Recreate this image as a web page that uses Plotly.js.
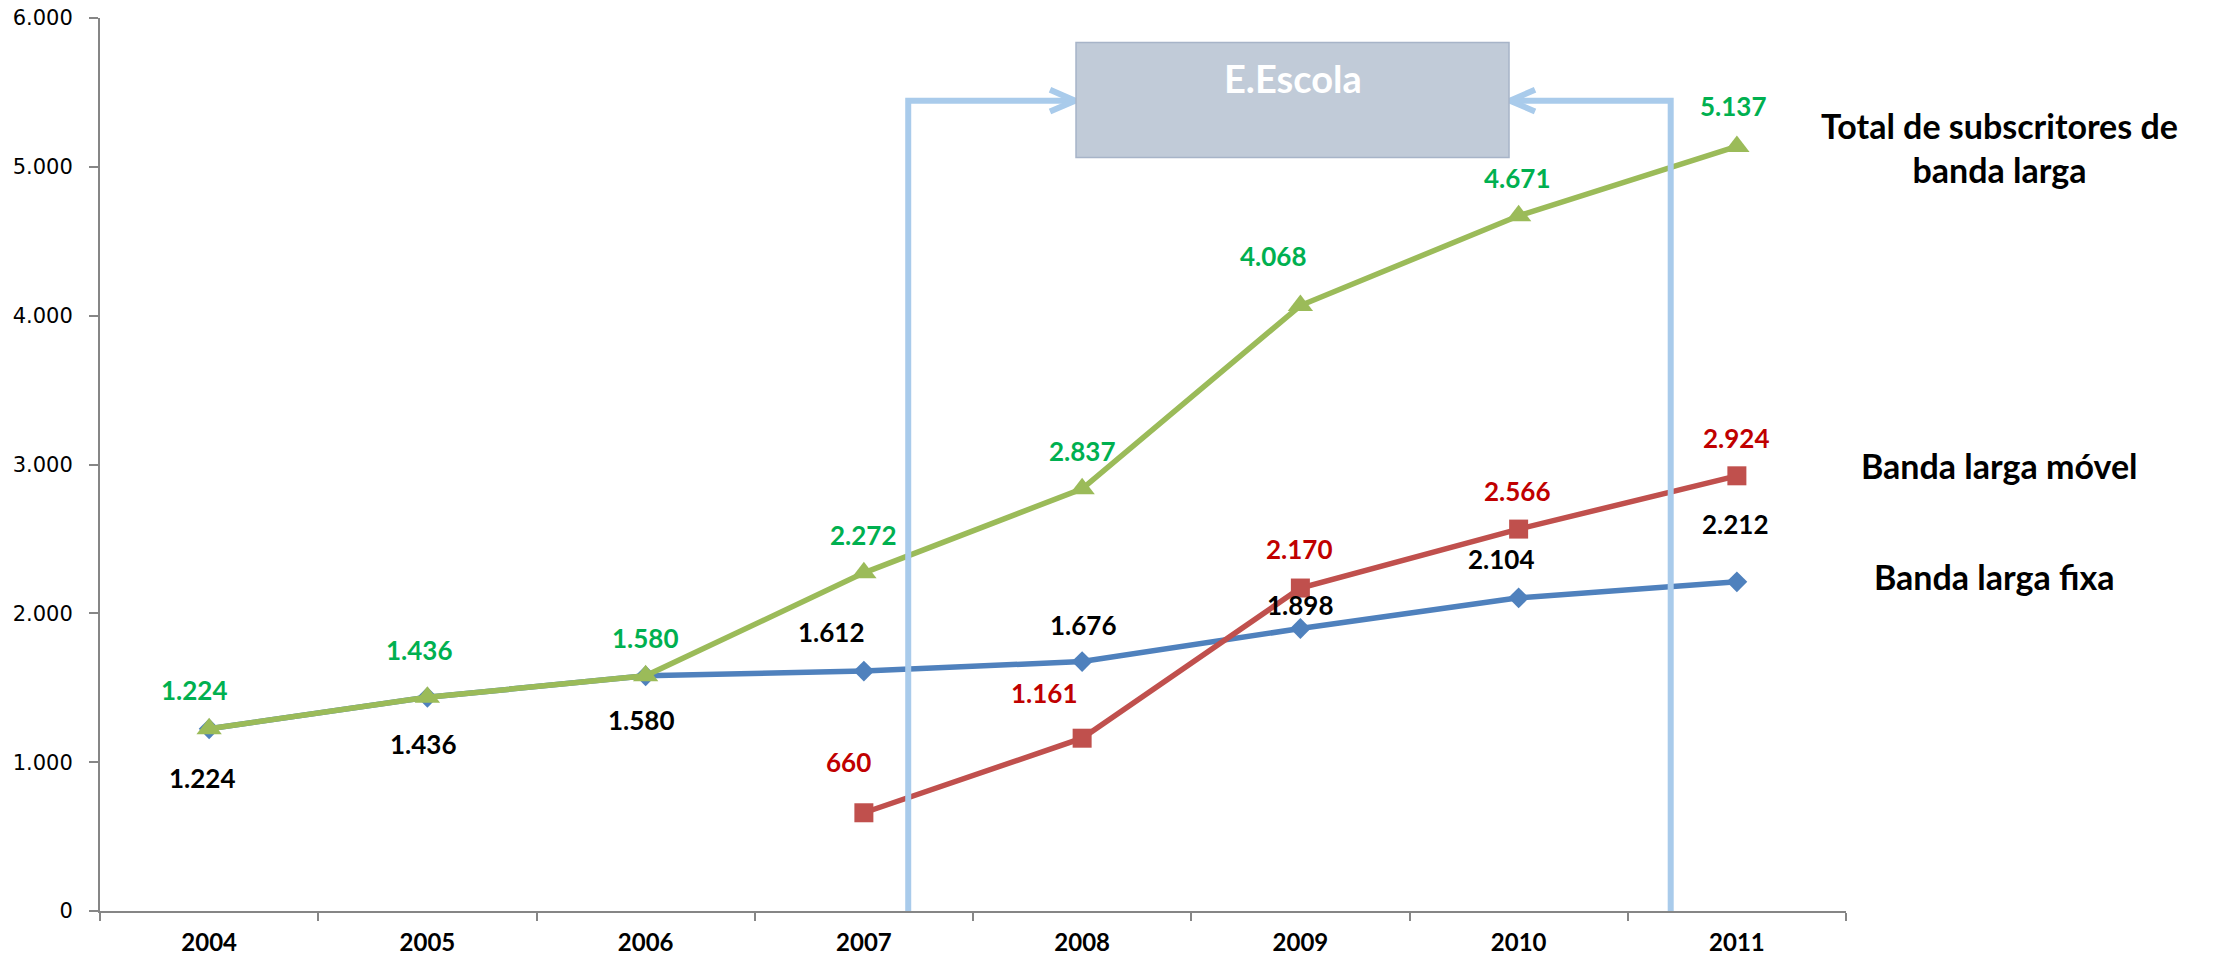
<!DOCTYPE html>
<html>
<head>
<meta charset="utf-8">
<script src="https://cdn.plot.ly/plotly-3.0.1.min.js"></script>
<style>
  html, body { margin: 0; padding: 0; background: #ffffff; }
  #chart { width: 2213px; height: 958px; }
</style>
</head>
<body>
<div id="chart"></div>
<script>
// ---- data ----
const years = ['2004', '2005', '2006', '2007', '2008', '2009', '2010', '2011'];
const bandaLargaFixa = [1224, 1436, 1580, 1612, 1676, 1898, 2104, 2212];
const bandaLargaMovel = [null, null, null, 660, 1161, 2170, 2566, 2924];
const totalSubscritores = [1224, 1436, 1580, 2272, 2837, 4068, 4671, 5137];
const seriesNames = ['Banda larga fixa', 'Banda larga móvel', 'Total de subscritores de<br>banda larga'];
const boxLabel = 'E.Escola';

// ---- label placement (pixel shifts from each point) ----
const shiftTotal = [[-15, 39], [-8, 47], [0, 38], [0, 38], [0, 38], [-27, 50], [-1, 38], [-3, 40]];
const shiftFixa = [[-7, -49], [-4, -47], [-4, -44], [-32, 39], [1, 37], [0, 24], [-17, 39], [-1, 58]];
const shiftMovel = [null, null, null, [-15, 51], [-38, 45], [-1, 39], [-1, 38], [0, 38]];

const COL_BLUE = '#4F81BD', COL_RED = '#C0504D', COL_GREEN = '#9BBB59';
const LBL_GREEN = '#00B050', LBL_RED = '#C00000', LBL_BLACK = '#000000';
const BRACKET = '#A9CBEB';

function fmt(v) {
  return String(v).replace(/\B(?=(\d{3})+(?!\d))/g, '.');
}

const traces = [
  {
    x: years, y: bandaLargaFixa, type: 'scatter', mode: 'lines+markers',
    name: seriesNames[0],
    line: { color: COL_BLUE, width: 5.5 },
    marker: { symbol: 'diamond', size: 16, color: COL_BLUE },
    cliponaxis: false, hoverinfo: 'skip'
  },
  {
    x: years, y: bandaLargaMovel, type: 'scatter', mode: 'lines+markers',
    name: seriesNames[1],
    line: { color: COL_RED, width: 5.5 },
    marker: { symbol: 'square', size: 19, color: COL_RED },
    cliponaxis: false, hoverinfo: 'skip'
  },
  {
    x: years, y: totalSubscritores, type: 'scatter', mode: 'lines+markers',
    name: seriesNames[2],
    line: { color: COL_GREEN, width: 5.5 },
    marker: { symbol: 'triangle-up', size: 22, color: COL_GREEN },
    cliponaxis: false, hoverinfo: 'skip'
  }
];

const labelFont = (c) => ({ family: 'Lato, "Open Sans", sans-serif', size: 26, color: c, weight: 700 });

const annotations = [];
function addLabels(vals, shifts, color) {
  vals.forEach((v, i) => {
    if (v === null || !shifts[i]) return;
    annotations.push({
      x: i, y: v, xref: 'x', yref: 'y',   // category index i of years[i]
      text: fmt(v), showarrow: false,
      xanchor: 'center', yanchor: 'middle',
      xshift: shifts[i][0], yshift: shifts[i][1],
      font: labelFont(color)
    });
  });
}
addLabels(bandaLargaFixa, shiftFixa, LBL_BLACK);
addLabels(bandaLargaMovel, shiftMovel, LBL_RED);
addLabels(totalSubscritores, shiftTotal, LBL_GREEN);

// series names on the right
const nameFont = { family: 'Lato, "Open Sans", sans-serif', size: 34, color: '#000000', weight: 700 };
annotations.push({ xref: 'paper', yref: 'paper', x: 1.088, y: 0.855, text: seriesNames[2], showarrow: false, xanchor: 'center', yanchor: 'middle', align: 'center', font: nameFont });
annotations.push({ xref: 'paper', yref: 'paper', x: 1.088, y: 0.499, text: seriesNames[1], showarrow: false, xanchor: 'center', yanchor: 'middle', font: nameFont });
annotations.push({ xref: 'paper', yref: 'paper', x: 1.085, y: 0.3745, text: seriesNames[0], showarrow: false, xanchor: 'center', yanchor: 'middle', font: nameFont });

// E.Escola label
annotations.push({ xref: 'paper', yref: 'paper', x: 0.683, y: 0.9331, text: boxLabel, showarrow: false, xanchor: 'center', yanchor: 'middle', font: { family: 'Lato, "Open Sans", sans-serif', size: 38, color: '#FFFFFF', weight: 700 } });

const bracketLine = { color: BRACKET, width: 6 };
const shapes = [
  { type: 'path', xref: 'paper', yref: 'paper', layer: 'above', path: 'M 0.4629,0 L 0.4629,0.9073 L 0.5585,0.9073', line: bracketLine },
  { type: 'path', xref: 'paper', yref: 'paper', layer: 'above', path: 'M 0.5441,0.9197 L 0.5585,0.9073 L 0.5441,0.8954', line: bracketLine },
  { type: 'path', xref: 'paper', yref: 'paper', layer: 'above', path: 'M 0.8996,0 L 0.8996,0.9073 L 0.8075,0.9073', line: bracketLine },
  { type: 'path', xref: 'paper', yref: 'paper', layer: 'above', path: 'M 0.8219,0.9197 L 0.8075,0.9073 L 0.8219,0.8954', line: bracketLine },
  { type: 'rect', xref: 'paper', yref: 'paper', layer: 'above', x0: 0.5590, x1: 0.8070, y0: 0.8438, y1: 0.9727, fillcolor: '#C1CBD8', line: { color: '#A7B4C8', width: 1.5 } }
];

const layout = {
  width: 2213, height: 958,
  margin: { l: 100, r: 367, t: 18, b: 47, pad: 0 },
  paper_bgcolor: '#FFFFFF', plot_bgcolor: '#FFFFFF',
  showlegend: false,
  separators: ',.',
  font: { family: 'Lato, sans-serif', color: '#000000' },
  xaxis: {
    type: 'category', range: [-0.5, 7.5],
    showgrid: false, zeroline: false,
    showline: true, linecolor: '#868686', linewidth: 2,
    ticks: 'outside', ticklen: 8, tickwidth: 2, tickcolor: '#868686',
    tickson: 'boundaries',
    tickfont: { family: 'Lato, sans-serif', size: 24, color: '#000000', weight: 700 },
    ticklabelstandoff: 9
  },
  yaxis: {
    range: [0, 6000], dtick: 1000, tick0: 0,
    tickformat: ',d',
    showgrid: false, zeroline: false,
    showline: true, linecolor: '#868686', linewidth: 2,
    ticks: 'outside', ticklen: 9, tickwidth: 2, tickcolor: '#868686',
    tickfont: { family: '"DejaVu Sans", Verdana, sans-serif', size: 21, color: '#000000' },
    ticklabelstandoff: 12
  },
  annotations: annotations,
  shapes: shapes
};

Plotly.newPlot('chart', traces, layout, { displayModeBar: false, staticPlot: true });
</script>
</body>
</html>
